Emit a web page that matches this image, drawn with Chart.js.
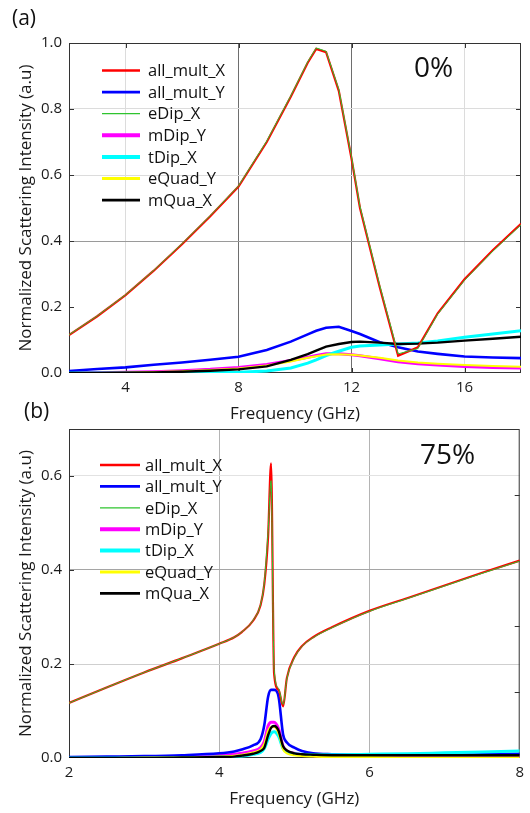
<!DOCTYPE html>
<html>
<head>
<meta charset="utf-8">
<script src="https://cdn.jsdelivr.net/npm/chart.js@4/dist/chart.umd.min.js"></script>
<style>
  html, body { margin: 0; padding: 0; background: #fff; }
  body { width: 530px; height: 813px; position: relative; overflow: hidden; }
  .panel { position: absolute; left: 0; }
  #wrapA { top: 0; }
  #wrapB { top: 400px; }
</style>
</head>
<body>
<div class="panel" id="wrapA"><canvas id="chartA" width="530" height="428"></canvas></div>
<div class="panel" id="wrapB"><canvas id="chartB" width="530" height="413"></canvas></div>
<script>
'use strict';

const FONT = "'Open Sans', 'DejaVu Sans', sans-serif";
Chart.defaults.font.family = FONT;
Chart.defaults.color = '#1a1a1a';

const SERIES_LABELS = ['all_mult_X', 'all_mult_Y', 'eDip_X', 'mDip_Y', 'tDip_X', 'eQuad_Y', 'mQua_X'];

// ─── panel (a): 0% ────────────────────────────────────────────────────────────
const FREQ_A = [2, 3, 4, 5, 6, 7, 8, 9, 9.85, 10.45, 10.75, 11.1, 11.55, 12.0, 12.3, 13.0, 13.65, 14.35, 15.05, 16, 17, 18];
const ALL_MULT_X_A = [0.115, 0.172, 0.236, 0.31, 0.39, 0.475, 0.565, 0.70, 0.837, 0.94, 0.982, 0.972, 0.855, 0.65, 0.50, 0.26, 0.052, 0.078, 0.181, 0.284, 0.372, 0.452];
const ALL_MULT_Y_A = [0.006, 0.012, 0.017, 0.025, 0.032, 0.04, 0.049, 0.07, 0.095, 0.117, 0.128, 0.137, 0.14, 0.127, 0.118, 0.093, 0.078, 0.065, 0.058, 0.05, 0.047, 0.045];
const E_DIP_X_A = [0.116, 0.173, 0.237, 0.311, 0.392, 0.477, 0.567, 0.703, 0.84, 0.943, 0.985, 0.975, 0.86, 0.655, 0.505, 0.265, 0.058, 0.074, 0.178, 0.281, 0.369, 0.449];
const M_DIP_Y_A = [0.0, 0.001, 0.002, 0.004, 0.007, 0.011, 0.017, 0.026, 0.038, 0.048, 0.053, 0.058, 0.058, 0.055, 0.052, 0.043, 0.034, 0.028, 0.024, 0.02, 0.017, 0.015];
const T_DIP_X_A = [0.0, 0.0, 0.0, 0.0, 0.0, 0.001, 0.002, 0.006, 0.015, 0.03, 0.04, 0.053, 0.066, 0.078, 0.082, 0.085, 0.088, 0.091, 0.097, 0.108, 0.118, 0.128];
const E_QUAD_Y_A = [0.0, 0.0, 0.001, 0.003, 0.005, 0.009, 0.014, 0.023, 0.035, 0.046, 0.051, 0.056, 0.057, 0.055, 0.053, 0.046, 0.038, 0.032, 0.028, 0.024, 0.021, 0.019];
const M_QUA_X_A = [0.0, 0.0, 0.001, 0.002, 0.004, 0.007, 0.011, 0.02, 0.04, 0.057, 0.068, 0.08, 0.088, 0.094, 0.095, 0.092, 0.088, 0.089, 0.092, 0.098, 0.104, 0.11];
const X_TICKS_A = [4, 8, 12, 16];
const Y_TICKS_A = [0, 0.2, 0.4, 0.6, 0.8, 1.0];

// ─── panel (b): 75% ───────────────────────────────────────────────────────────
const FREQ_B = [2, 2.5, 3, 3.5, 4, 4.2, 4.3, 4.45, 4.55, 4.6, 4.65, 4.69, 4.73, 4.79, 4.85, 4.9, 5.0, 5.1, 5.25, 5.5, 6, 6.5, 7, 7.5, 8];
const ALL_MULT_X_B = [0.117, 0.15, 0.182, 0.212, 0.243, 0.257, 0.268, 0.292, 0.325, 0.37, 0.47, 0.627, 0.18, 0.145, 0.11, 0.17, 0.215, 0.238, 0.257, 0.278, 0.313, 0.34, 0.367, 0.394, 0.42];
const ALL_MULT_Y_B = [0.002, 0.003, 0.004, 0.006, 0.01, 0.014, 0.018, 0.027, 0.04, 0.07, 0.13, 0.145, 0.145, 0.13, 0.05, 0.033, 0.022, 0.015, 0.01, 0.008, 0.007, 0.007, 0.007, 0.008, 0.009];
const E_DIP_X_B = [0.117, 0.15, 0.182, 0.212, 0.243, 0.257, 0.268, 0.293, 0.327, 0.374, 0.48, 0.59, 0.19, 0.148, 0.114, 0.168, 0.213, 0.237, 0.256, 0.277, 0.312, 0.339, 0.366, 0.393, 0.419];
const M_DIP_Y_B = [0.001, 0.001, 0.002, 0.003, 0.006, 0.008, 0.01, 0.015, 0.022, 0.035, 0.068, 0.076, 0.076, 0.062, 0.025, 0.015, 0.01, 0.007, 0.005, 0.004, 0.003, 0.003, 0.003, 0.003, 0.004];
const T_DIP_X_B = [0.0, 0.0, 0.0, 0.001, 0.002, 0.003, 0.004, 0.008, 0.012, 0.02, 0.04, 0.052, 0.056, 0.046, 0.02, 0.013, 0.009, 0.008, 0.007, 0.007, 0.008, 0.009, 0.011, 0.013, 0.015];
const E_QUAD_Y_B = [0.0, 0.0, 0.001, 0.001, 0.003, 0.005, 0.007, 0.012, 0.018, 0.03, 0.058, 0.066, 0.066, 0.052, 0.018, 0.01, 0.006, 0.004, 0.003, 0.002, 0.002, 0.001, 0.001, 0.001, 0.001];
const M_QUA_X_B = [0.0, 0.0, 0.0, 0.001, 0.002, 0.003, 0.005, 0.009, 0.015, 0.022, 0.048, 0.064, 0.068, 0.058, 0.025, 0.016, 0.01, 0.008, 0.007, 0.006, 0.006, 0.006, 0.006, 0.006, 0.006];
const X_TICKS_B = [2, 4, 6, 8];
const Y_TICKS_B = [0, 0.2, 0.4, 0.6];
const RIGHT_TICKS_B = [0.14, 0.28, 0.42, 0.56];

// ─── series styles (same order as SERIES_LABELS) ─────────────────────────────
const STYLE = [
  { color: '#ff0000', width: 2.2, legendWidth: 2.6, order: 1 },
  { color: '#0000ff', width: 2.6, legendWidth: 2.6, order: 5 },
  { color: '#2ec42e', width: 1, legendWidth: 1.3, order: 0 },
  { color: '#ff00ff', width: 3, legendWidth: 4, order: 6 },
  { color: '#00ffff', width: 3, legendWidth: 4, order: 4 },
  { color: '#ffff00', width: 2, legendWidth: 3, order: 3 },
  { color: '#000000', width: 2.4, legendWidth: 2.8, order: 2 },
];

function pick(pairs, v, fallback) {
  if (v === undefined) return fallback;
  const hit = pairs.find(p => Math.abs(p[0] - v) < 1e-6);
  return hit ? hit[1] : fallback;
}

// ─── frame, inward ticks, legend and panel texts ─────────────────────────────
const decorPlugin = {
  id: 'decor',
  beforeDatasetsDraw(chart, args, opts) {
    const { ctx, chartArea: a, scales: { x, y } } = chart;
    const T = 5;
    ctx.save();
    ctx.strokeStyle = '#333';
    ctx.lineWidth = 1;
    ctx.strokeRect(a.left + 0.5, a.top + 0.5, a.right - a.left - 1, a.bottom - a.top - 1);
    ctx.beginPath();
    opts.edgeX.forEach(v => {
      const px = Math.round(x.getPixelForValue(v)) + 0.5;
      ctx.moveTo(px, a.top); ctx.lineTo(px, a.top + T);
      ctx.moveTo(px, a.bottom); ctx.lineTo(px, a.bottom - T);
    });
    opts.edgeLeft.forEach(v => {
      const py = Math.round(y.getPixelForValue(v)) + 0.5;
      ctx.moveTo(a.left, py); ctx.lineTo(a.left + T, py);
    });
    opts.edgeRight.forEach(v => {
      const py = Math.round(y.getPixelForValue(v)) + 0.5;
      ctx.moveTo(a.right, py); ctx.lineTo(a.right - T, py);
    });
    ctx.stroke();
    ctx.restore();
  },
  afterDatasetsDraw(chart, args, opts) {
    const { ctx } = chart;
    const lg = opts.legend;
    ctx.save();
    ctx.font = `16.5px ${FONT}`;
    ctx.textBaseline = 'middle';
    ctx.fillStyle = '#111';
    chart.data.datasets.forEach((ds, i) => {
      const yy = lg.y0 + i * lg.dy;
      ctx.strokeStyle = ds.borderColor;
      ctx.lineWidth = ds.legendWidth;
      ctx.beginPath();
      ctx.moveTo(lg.x0, yy);
      ctx.lineTo(lg.x1, yy);
      ctx.stroke();
      ctx.fillText(ds.label, lg.tx, yy + 1);
    });
    ctx.textBaseline = 'alphabetic';
    ctx.font = `21px ${FONT}`;
    ctx.fillText(opts.panel.text, opts.panel.x, opts.panel.y);
    ctx.font = `28px ${FONT}`;
    ctx.fillText(opts.note.text, opts.note.x, opts.note.y);
    ctx.restore();
  },
};

function makeChart(id, o) {
  const datasets = SERIES_LABELS.map((label, i) => ({
    label,
    data: o.freq.map((f, k) => ({ x: f, y: o.series[i][k] })),
    borderColor: STYLE[i].color,
    borderWidth: STYLE[i].width,
    legendWidth: STYLE[i].legendWidth,
    order: STYLE[i].order,
    pointRadius: 0,
    fill: false,
    tension: 0,
    cubicInterpolationMode: o.smooth ? 'monotone' : 'default',
  }));

  return new Chart(document.getElementById(id), {
    type: 'line',
    data: { datasets },
    plugins: [decorPlugin],
    options: {
      animation: false,
      responsive: false,
      events: [],
      layout: { padding: { top: o.top, right: 9, left: 0, bottom: 0 } },
      plugins: {
        legend: { display: false },
        tooltip: { enabled: false },
        decor: o.decor,
      },
      scales: {
        x: {
          type: 'linear',
          min: o.xMin,
          max: o.xMax,
          afterBuildTicks: s => { s.ticks = o.xTicks.map(v => ({ value: v })); },
          afterFit: s => { s.height = o.xAxisHeight; },
          border: { display: false },
          grid: { color: c => pick(o.xGrid, c.tick && c.tick.value, 'rgba(0,0,0,0)'), lineWidth: 1, drawTicks: false },
          ticks: { padding: 6, font: { size: 15 }, color: '#1a1a1a', maxRotation: 0, autoSkip: false, callback: v => String(v) },
          title: { display: true, text: 'Frequency (GHz)', font: { size: 17 }, color: '#1a1a1a', padding: { top: 0, bottom: 3.5 } },
        },
        y: {
          type: 'linear',
          min: 0,
          max: o.yMax,
          afterBuildTicks: s => { s.ticks = o.yTicks.map(v => ({ value: v })); },
          afterFit: s => { s.width = 69; },
          border: { display: false },
          grid: { color: c => pick(o.yGrid, c.tick && c.tick.value, 'rgba(0,0,0,0)'), lineWidth: 1, drawTicks: false },
          ticks: { padding: 7, font: { size: 15 }, color: '#1a1a1a', callback: v => v.toFixed(1) },
          title: { display: true, text: 'Normalized Scattering Intensity (a.u)', font: { size: 17 }, color: '#1a1a1a', padding: { top: 16, bottom: 0 } },
        },
      },
    },
  });
}

makeChart('chartA', {
  freq: FREQ_A,
  series: [ALL_MULT_X_A, ALL_MULT_Y_A, E_DIP_X_A, M_DIP_Y_A, T_DIP_X_A, E_QUAD_Y_A, M_QUA_X_A],
  smooth: false,
  top: 43,
  xAxisHeight: 55,
  xMin: 2, xMax: 18, yMax: 1.0,
  xTicks: X_TICKS_A,
  yTicks: Y_TICKS_A,
  xGrid: [[4, '#dcdcdc'], [8, '#6e6e6e'], [12, '#6e6e6e'], [16, '#dcdcdc']],
  yGrid: [[0.4, '#9a9a9a'], [0.6, '#dcdcdc'], [0.8, '#dcdcdc']],
  decor: {
    edgeX: X_TICKS_A,
    edgeLeft: [0.2, 0.4, 0.6, 0.8],
    edgeRight: [0.2, 0.4, 0.6, 0.8],
    legend: { x0: 102, x1: 140, tx: 148, y0: 70.5, dy: 21.6 },
    panel: { text: '(a)', x: 12, y: 25 },
    note: { text: '0%', x: 414, y: 77 },
  },
});

makeChart('chartB', {
  freq: FREQ_B,
  series: [ALL_MULT_X_B, ALL_MULT_Y_B, E_DIP_X_B, M_DIP_Y_B, T_DIP_X_B, E_QUAD_Y_B, M_QUA_X_B],
  smooth: true,
  top: 29,
  xAxisHeight: 55,
  xMin: 2, xMax: 8, yMax: 0.7,
  xTicks: X_TICKS_B,
  yTicks: Y_TICKS_B,
  xGrid: [[4, '#b4b4b4'], [6, '#b4b4b4']],
  yGrid: [[0.2, '#cfcfcf'], [0.4, '#a5a5a5'], [0.6, '#e2e2e2']],
  decor: {
    edgeX: [],
    edgeLeft: [0.2, 0.4, 0.6],
    edgeRight: RIGHT_TICKS_B,
    legend: { x0: 100, x1: 140, tx: 145, y0: 65, dy: 21.4 },
    panel: { text: '(b)', x: 24, y: 18 },
    note: { text: '75%', x: 420, y: 64 },
  },
});
</script>
</body>
</html>
